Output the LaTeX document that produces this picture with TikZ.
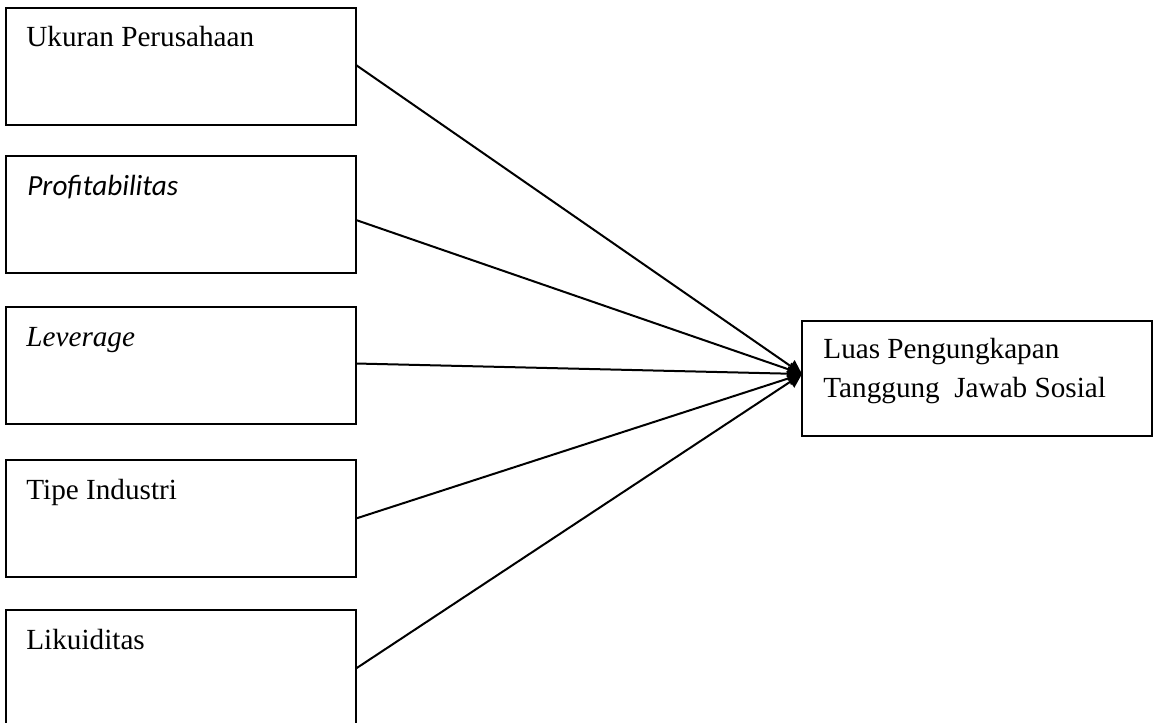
\documentclass[tikz,border=0pt]{standalone}
\usepackage{fontspec}
\setmainfont{Liberation Serif}
\newfontfamily\carlitofont{Carlito}
\usetikzlibrary{arrows.meta,calc}
\tikzset{
  varbox/.style={draw=black, line width=1pt, fill=white, minimum width=175pt, minimum height=58.5pt, inner sep=0pt, outer sep=0pt, anchor=north west},
  lbl/.style={anchor=base west, inner sep=0pt, font=\fontsize{14.6}{19.5}\selectfont},
  conn/.style={draw=black, line width=1pt, -{Triangle[length=7pt,width=7pt]}}
}
\begin{document}
\begin{tikzpicture}[x=0.5pt,y=-0.5pt]
\useasboundingbox (0,0) rectangle (1160,722);
\node[varbox] (b1) at (6,8) {};
\node[varbox] (b2) at (6,156) {};
\node[varbox] (b3) at (6,307) {};
\node[varbox] (b4) at (6,460) {};
\node[varbox] (b5) at (6,610) {};
\node[varbox, minimum height=57.5pt] (r) at (802,321) {};
\node[lbl] (t1) at (26,47) {Ukuran Perusahaan};
\node[lbl] (t2) at (27,195) {\carlitofont\itshape Profitabilitas};
\node[lbl] (t3) at (26,346) {\itshape Leverage};
\node[lbl] (t4) at (26,499) {Tipe Industri};
\node[lbl] (t5) at (26,649) {Likuiditas};
\node[lbl] (tr1) at (823,358) {Luas Pengungkapan};
\node[lbl] (tr2) at (823,397) {Tanggung~~Jawab Sosial};
\coordinate (tip) at (802,374);
\draw[conn] ($(b1.east)+(0,-1.5)$) -- (tip);
\draw[conn] ($(b2.east)+(0,5.5)$) -- (tip);
\draw[conn] ($(b3.east)+(0,-2)$) -- (tip);
\draw[conn] (b4.east) -- (tip);
\draw[conn] (b5.east) -- (tip);
\end{tikzpicture}
\end{document}
